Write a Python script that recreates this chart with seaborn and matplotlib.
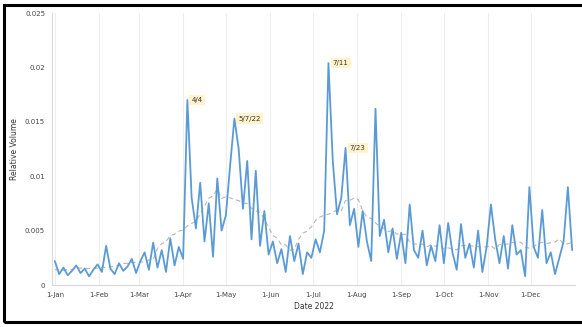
import numpy as np
import pandas as pd
import matplotlib
matplotlib.use("Agg")
import matplotlib.pyplot as plt
import seaborn as sns
from matplotlib.patches import Rectangle

# ---- data (values x 1e-3, sampled every 3 days through 2022) ----
jan = [2.2, 1.0, 1.6, 0.9, 1.3, 1.8, 1.1, 1.5, 0.8, 1.4, 1.9]
feb = [1.2, 3.6, 1.5, 1.0, 2.0, 1.3, 1.7, 2.4, 1.1, 2.2]
mar = [3.0, 1.4, 3.9, 1.6, 3.2, 1.2, 4.3, 1.8, 3.5, 2.4]
apr = [17.0, 8.0, 5.2, 9.4, 4.0, 7.5, 2.6, 9.8, 5.0, 6.4]
may = [11.0, 15.3, 12.5, 7.0, 11.4, 4.2, 10.5, 3.6, 6.8, 2.8]
jun = [4.0, 2.0, 3.3, 1.2, 4.5, 2.2, 3.8, 1.0, 3.0, 2.5]
jul = [4.2, 3.0, 5.0, 20.4, 11.5, 6.5, 8.0, 12.6, 5.5, 7.0]
aug = [3.5, 6.8, 4.0, 2.2, 16.2, 4.5, 6.0, 3.0, 5.2, 2.4]
sep = [4.8, 2.0, 7.4, 3.2, 2.5, 5.0, 1.8, 3.6, 2.2, 5.5]
oct_ = [2.0, 5.7, 3.0, 1.4, 5.6, 2.5, 3.8, 1.6, 5.0, 1.2]
nov = [3.5, 7.4, 4.2, 2.0, 4.5, 1.5, 5.5, 2.8, 3.2, 0.8]
dec = [9.0, 3.5, 2.5, 6.9, 2.0, 3.0, 1.0, 2.5, 4.0, 9.0, 3.2]

annot_dates = ["2022-04-04", "2022-05-07", "2022-07-11", "2022-07-23"]
annot_labels = ["4/4", "5/7/22", "7/11", "7/23"]

month_labels = ["1-Jan", "1-Feb", "1-Mar", "1-Apr", "1-May", "1-Jun",
                "1-Jul", "1-Aug", "1-Sep", "1-Oct", "1-Nov", "1-Dec"]

values = np.array(jan + feb + mar + apr + may + jun + jul + aug + sep + oct_ + nov + dec) * 1e-3
dates = pd.date_range("2022-01-01", periods=len(values), freq="3D")
df = pd.DataFrame({"date": dates, "value": values})
df["trend"] = df["value"].rolling(15, center=True, min_periods=5).mean()

sns.set_theme(style="white")
plt.rcParams["font.family"] = ["DejaVu Sans"]

fig = plt.figure(figsize=(5.82, 3.27), dpi=100)
ax = fig.add_axes([52/582, 1-285/327, 523/582, (285-13)/327])

month_ticks = pd.date_range("2022-01-01", periods=12, freq="MS")
for m in month_ticks:
    ax.axvline(m, color="#eeeeee", lw=0.8, zorder=0)

sns.lineplot(data=df, x="date", y="trend", ax=ax, color="#b5b5b5", lw=0.8,
             linestyle=(0, (4, 3)), zorder=2)
sns.lineplot(data=df, x="date", y="value", ax=ax, color="#5b9bd5", lw=1.3, zorder=3)

for d, lab in zip(annot_dates, annot_labels):
    dt = pd.Timestamp(d)
    near = df[(df["date"] - dt).abs() <= pd.Timedelta(days=2)]
    idx = near["value"].idxmax()
    ax.annotate(lab, xy=(df.loc[idx, "date"], df.loc[idx, "value"]), xytext=(3, 0),
                textcoords="offset points", fontsize=5, va="center", ha="left",
                color="#333333",
                bbox=dict(boxstyle="square,pad=0.3", fc="#fff2cc", ec="none"))

ax.set_xlim(pd.Timestamp("2021-12-30"), pd.Timestamp("2023-01-01"))
ax.set_ylim(0, 0.025)
ax.set_yticks([0, 0.005, 0.01, 0.015, 0.02, 0.025])
ax.set_yticklabels(["0", "0.005", "0.01", "0.015", "0.02", "0.025"])
ax.set_xticks(month_ticks)
ax.set_xticklabels(month_labels)
ax.tick_params(axis="both", labelsize=5, colors="#444444", length=0, pad=5)
ax.set_xlabel("Date 2022", fontsize=5.5, color="#333333", labelpad=3)
ax.set_ylabel("Relative Volume", fontsize=5.5, color="#333333", labelpad=4)

for s in ["top", "right"]:
    ax.spines[s].set_visible(False)
ax.spines["left"].set_color("#d9d9d9")
ax.spines["bottom"].set_color("#d9d9d9")
ax.spines["left"].set_linewidth(0.8)
ax.spines["bottom"].set_linewidth(0.8)

fig.patches.append(Rectangle((4/582, 1-322/327), 590/582, (322-5)/327,
                             transform=fig.transFigure, fill=False,
                             ec="black", lw=2.2))

fig.savefig("out.png", dpi=100)
